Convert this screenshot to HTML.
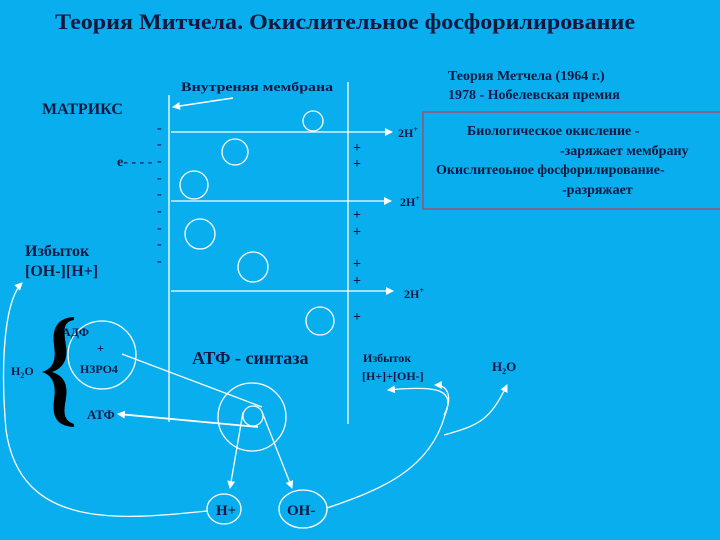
<!DOCTYPE html>
<html><head><meta charset="utf-8"><style>
html,body{margin:0;padding:0;background:#08aeee;}
svg{display:block}
text{font-family:"Liberation Serif","Noto Serif CJK SC",serif;fill:#101840;font-weight:bold}
</style></head><body>
<svg width="720" height="540" viewBox="0 0 720 540" xmlns="http://www.w3.org/2000/svg">
<defs><marker id="a" markerWidth="8" markerHeight="8" refX="7" refY="4" orient="auto" markerUnits="userSpaceOnUse"><path d="M0,0 L8,4 L0,8 z" fill="#fff"/></marker></defs>
<rect width="720" height="540" fill="#08aeee"/>
<text x="55" y="29" font-size="22" textLength="580" lengthAdjust="spacingAndGlyphs">Теория Митчела. Окислительное фосфорилирование</text>
<text x="448" y="80" font-size="14">Теория Метчела (1964 г.)</text>
<text x="448" y="99" font-size="14">1978 - Нобелевская премия</text>
<text x="181" y="91" font-size="13" textLength="152" lengthAdjust="spacingAndGlyphs">Внутреняя мембрана</text>
<line x1="233" y1="98" x2="173" y2="107" stroke="#fff" stroke-width="1.5" marker-end="url(#a)"/>
<text x="42" y="114" font-size="16">МАТРИКС</text>
<text x="117" y="166" font-size="14" font-weight="normal">е- - - -</text>
<text x="25" y="256" font-size="16">Избыток</text>
<text x="25" y="276" font-size="16">[ОН-][Н+]</text>
<rect x="423" y="112" width="300" height="97" fill="none" stroke="#a05070" stroke-width="1.5"/>
<text x="467" y="135" font-size="14">Биологическое окисление -</text>
<text x="560" y="155" font-size="14">-заряжает мембрану</text>
<text x="436" y="174" font-size="14">Окислитеоьное фосфорилирование-</text>
<text x="562" y="194" font-size="14">-разряжает</text>
<g stroke="#fff" fill="none" stroke-width="1.3">
<line x1="169" y1="95" x2="169" y2="422"/>
<line x1="348" y1="82" x2="348" y2="424"/>
<line x1="171" y1="132" x2="392" y2="132" marker-end="url(#a)"/>
<line x1="171" y1="201" x2="391" y2="201" marker-end="url(#a)"/>
<line x1="171" y1="291" x2="393" y2="291" marker-end="url(#a)"/>
<circle cx="313" cy="121" r="10"/>
<circle cx="235" cy="152" r="13"/>
<circle cx="194" cy="185" r="14"/>
<circle cx="200" cy="234" r="15"/>
<circle cx="253" cy="267" r="15"/>
<circle cx="320" cy="321" r="14"/>
<circle cx="102" cy="355" r="34"/>
<circle cx="252" cy="417" r="34"/>
<circle cx="253" cy="416" r="10"/>
<ellipse cx="224" cy="509" rx="17" ry="15"/>
<ellipse cx="303" cy="509" rx="24" ry="19"/>
<line x1="122" y1="354" x2="262" y2="407"/>
<path d="M258,427 L118,414" marker-end="url(#a)" stroke-width="1.8"/>
<path d="M243,412 L230,488" marker-end="url(#a)"/>
<path d="M262,412 L292,488" marker-end="url(#a)"/>
<path d="M207,511 C120,520 20,530 6,430 C0,360 5,300 22,283" marker-end="url(#a)"/>
<path d="M327,508 C380,490 430,470 445,415 C455,390 440,385 388,390" marker-end="url(#a)"/>
<path d="M444,415 C452,400 450,385 435,385" marker-end="url(#a)"/>
<path d="M444,435 C480,425 490,420 507,385" marker-end="url(#a)"/>
</g>
<g font-size="14" font-weight="normal">
<text x="157" y="132">-</text><text x="157" y="148">-</text><text x="157" y="165">-</text><text x="157" y="182">-</text><text x="157" y="198">-</text><text x="157" y="215">-</text><text x="157" y="232">-</text><text x="157" y="248">-</text><text x="157" y="265">-</text>
<text x="353" y="152">+</text><text x="353" y="168">+</text><text x="353" y="219">+</text><text x="353" y="236">+</text><text x="353" y="268">+</text><text x="353" y="285">+</text><text x="353" y="321">+</text>
</g>
<text x="398" y="137" font-size="12">2H<tspan font-size="8" dy="-5">+</tspan></text>
<text x="400" y="206" font-size="12">2H<tspan font-size="8" dy="-5">+</tspan></text>
<text x="404" y="298" font-size="12">2H<tspan font-size="8" dy="-5">+</tspan></text>
<text x="62" y="336" font-size="12">АДФ</text>
<text x="97" y="352" font-size="12" font-weight="normal">+</text>
<text x="80" y="373" font-size="12">Н3РО4</text>
<text x="87" y="419" font-size="13">АТФ</text>
<text x="11" y="375" font-size="12">Н<tspan font-size="8" dy="3">2</tspan><tspan dy="-3">О</tspan></text>
<path d="M74,317 C56,318 52,330 54,345 C56,360 54,368 42,372 C54,376 56,386 54,400 C52,416 56,426 74,427 L74,424 C62,420 64,410 66,398 C68,384 64,376 52,372 C64,368 68,358 66,346 C64,332 62,322 74,320 Z" fill="#000"/>
<text x="192" y="364" font-size="18">АТФ - синтаза</text>
<text x="363" y="362" font-size="12">Избыток</text>
<text x="362" y="380" font-size="12">[Н+]+[ОН-]</text>
<text x="492" y="371" font-size="13">Н<tspan font-size="8" dy="3">2</tspan><tspan dy="-3">О</tspan></text>
<text x="216" y="515" font-size="15">Н+</text>
<text x="287" y="515" font-size="15">ОН-</text>
</svg>
</body></html>
